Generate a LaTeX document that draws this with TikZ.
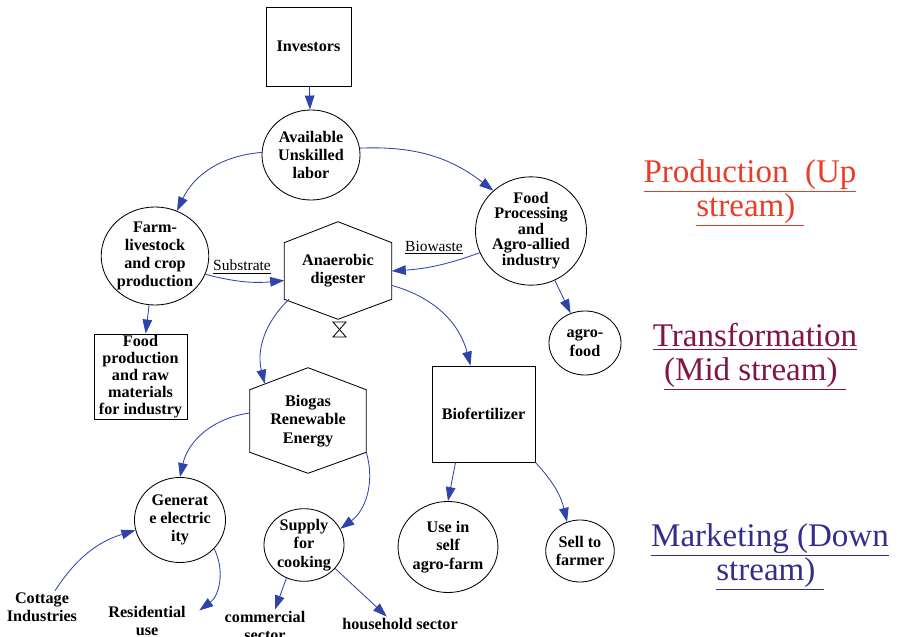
\documentclass[tikz,border=0pt]{standalone}
\usepackage{fontspec}
\setmainfont{Liberation Serif}
\usepackage{tikz}
\usetikzlibrary{arrows.meta,shapes.geometric}
\definecolor{flowblue}{RGB}{46,68,170}
\definecolor{upred}{RGB}{232,62,40}
\definecolor{midred}{RGB}{130,20,72}
\definecolor{downblue}{RGB}{52,46,138}
\tikzset{
  fl/.style={draw=flowblue,line width=0.6pt,-{Triangle[length=3.5mm,width=2.4mm]}},
  el/.style={ellipse,draw,line width=0.6pt,inner sep=0pt,align=center,font=\bfont},
  bx/.style={rectangle,draw,line width=0.6pt,inner sep=0pt,align=center,font=\bfont},
  hexin/.style={rectangle,inner sep=1pt,align=center,font=\bfont},
  hexline/.style={draw,line width=0.6pt},
  txt/.style={inner sep=1pt,align=center,font=\bfont},
  lab/.style={inner sep=1pt,font=\fontsize{11}{12}\selectfont},
  stage/.style={align=center,font=\fontsize{23.5}{24}\selectfont}
}
\newcommand{\bfont}{\fontsize{11.5}{13}\selectfont\bfseries}
\newcommand{\hexframe}[3]{\draw[hexline] (#1.north west) -- ([yshift=#2]#1.north) -- (#1.north east) -- (#1.south east) -- ([yshift=-#3]#1.south) -- (#1.south west) -- cycle;}

\begin{document}
\begin{tikzpicture}[x=0.025cm,y=0.025cm]
\useasboundingbox (0,0) rectangle (897,-637);
\node[bx,minimum width=2.125cm,minimum height=1.975cm] (inv) at (308.5,-46.5) {Investors};
\node[el,minimum width=2.45cm,minimum height=2.25cm] (labor) at (311,-155) {Available\\Unskilled\\labor};
\node[el,minimum width=2.575cm,minimum height=2.45cm] (farm) at (155,-256) {Farm-\\livestock\\and crop\\production};
\node[el,minimum width=2.775cm,minimum height=2.575cm,font=\fontsize{11.5}{10.5}\selectfont\bfseries] (proc) at (531,-231) {Food\\Processing\\and\\Agro-allied\\industry};
\node[el,minimum width=1.8cm,minimum height=1.6cm] (agro) at (585,-343) {agro-\\food};
\node[hexin,minimum width=2.675cm,minimum height=1.4cm] (dig) at (338,-271) {Anaerobic\\digester};
\hexframe{dig}{0.525cm}{0.5cm}
\draw[line width=0.6pt] (333,-322) -- (346,-322) -- (333,-337) -- (346,-337) -- cycle;
\node[bx,minimum width=2.325cm,minimum height=2.125cm,font=\fontsize{11.5}{12}\selectfont\bfseries] (fprod) at (140.5,-376.5) {Food\\production\\and raw\\materials\\for industry};
\node[hexin,minimum width=2.9cm,minimum height=1.55cm] (bgas) at (308,-421) {Biogas\\Renewable\\Energy};
\hexframe{bgas}{0.55cm}{0.525cm}
\node[bx,minimum width=2.575cm,minimum height=2.4cm] (biof) at (483.5,-414) {Biofertilizer};
\node[el,minimum width=2.275cm,minimum height=2.125cm] (gen) at (180,-520) {Generat\\e electric\\ity};
\node[el,minimum width=2cm,minimum height=1.7cm] (cook) at (304,-545) {Supply\\for\\cooking};
\node[el,minimum width=2.45cm,minimum height=2.275cm] (self) at (448,-547) {Use in\\self\\agro-farm};
\node[el,minimum width=1.675cm,minimum height=1.55cm] (sell) at (580,-551) {Sell to\\farmer};
\node[txt] (cot) at (42,-607) {Cottage\\Industries};
\node[txt] (res) at (147,-621) {Residential\\use};
\node[txt] (com) at (265,-626) {commercial\\sector};
\node[txt] (hh) at (400,-624) {household sector};
\node[lab] (substr) at (242,-267) {\underline{Substrate}};
\node[lab] (biow) at (434,-248) {\underline{Biowaste}};
\node[stage,text=upred] (up) at (750,-193) {\underline{Production\ \ (Up}\\\underline{stream)\ }};
\node[stage,text=midred] (mid) at (755,-357) {\underline{Transformation}\\\underline{(Mid stream)\ }};
\node[stage,text=downblue] (down) at (770,-557) {\underline{Marketing (Down}\\\underline{stream)\ }};
\draw[fl] (inv) -- (labor);
\draw[fl] (labor.177) to[bend right=30] (farm.64);
\draw[fl] (labor.8) to[bend left=20] (proc.133);
\draw[fl] (farm.-20) to[bend right=10] (dig.-170);
\draw[fl] (proc.203) to[bend left=8] (dig.east);
\draw[fl] (farm) -- (fprod);
\draw[fl] (proc) -- (agro);
\draw[fl] (dig.-150) to[bend right=30] ([xshift=0.375cm,yshift=0.15cm]bgas.north west);
\draw[fl] (dig.-15) to[bend left=30] (biof.105);
\draw[fl] ([yshift=0.2cm]bgas.west) to[bend right=35] (gen.north);
\draw[fl] (bgas.south east) to[bend left=35] (cook.24);
\draw[fl] (biof.-120) -- (self.north);
\draw[fl] (biof.south east) to[bend left=15] (sell.114);
\draw[fl] ([xshift=0.325cm]cot.north) to[bend left=20] (gen.193);
\draw[fl] (gen.-40) to[bend left=40] ([xshift=0.3cm,yshift=-0.15cm]res.north east);
\draw[fl] (cook.-118) -- ([xshift=0.25cm]com.north);
\draw[fl] (cook.-37) -- ([xshift=-0.33cm]hh.north);
\end{tikzpicture}
\end{document}
